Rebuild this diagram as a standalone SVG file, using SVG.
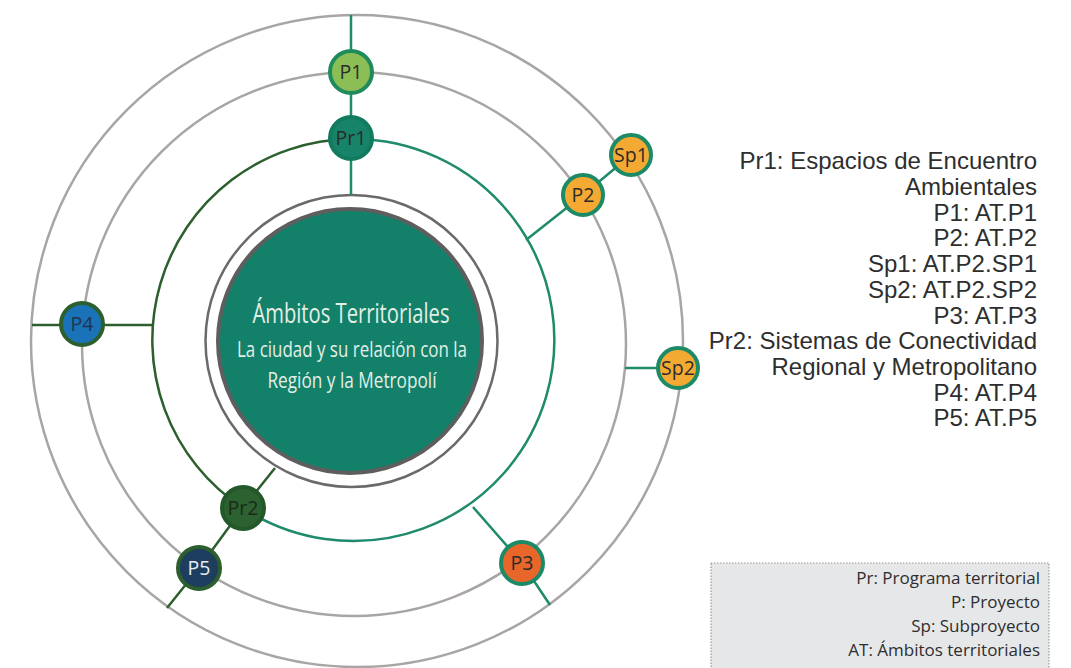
<svg xmlns="http://www.w3.org/2000/svg" width="1071" height="668" viewBox="0 0 1071 668">
<style>
.ring{fill:none;stroke:#a9a5a5;stroke-width:2.5}
.teal{stroke:#1f8a6c;stroke-width:2.5;fill:none}
.dkg{stroke:#2d5f2e;stroke-width:2.5;fill:none}
.nl{font-family:"Open Sans","Noto Sans",sans-serif;font-size:19.5px;text-anchor:middle;fill:#2b2b2b}
.side{font-family:"Liberation Sans",Arial,sans-serif;font-size:24px;text-anchor:end;fill:#2e2e2e}
.leg{font-family:"Open Sans","Noto Sans",sans-serif;font-size:17px;text-anchor:end;fill:#2e2e2e}
.ctr{font-family:"Open Sans","Noto Sans",sans-serif;text-anchor:middle;fill:#e3efe6}
</style>
<rect width="1071" height="668" fill="#ffffff"/>
<g id="rings">
<circle class="ring" cx="357" cy="341" r="326"/>
<circle class="ring" cx="354" cy="344" r="272"/>
<circle cx="351.5" cy="341" r="146" fill="none" stroke="#6b6969" stroke-width="2.5"/>
</g>
<g id="connectors">
<path class="dkg" d="M351,139 A201,201 0 0 0 243,508"/>
<path class="teal" d="M351,139 A201,201 0 1 1 243,508"/>
<line class="teal" x1="351" y1="15" x2="351" y2="195"/>
<line class="teal" x1="526" y1="240" x2="583" y2="195"/>
<line class="teal" x1="583" y1="195" x2="631" y2="155"/>
<line class="teal" x1="625" y1="368" x2="678" y2="368"/>
<polyline class="teal" points="473,507 522,563 550,605"/>
<line class="dkg" x1="32" y1="325" x2="153" y2="325"/>
<polyline class="dkg" points="275,468 243,508 199,568 167,608"/>
</g>
<g id="center">
<circle cx="350" cy="341" r="132" fill="#13806a" stroke="#5e5e5e" stroke-width="4"/>
<text class="ctr" x="351" y="323" font-size="28" textLength="197" lengthAdjust="spacingAndGlyphs">Ámbitos Territoriales</text>
<text class="ctr" x="352" y="357" font-size="22.5" textLength="230" lengthAdjust="spacingAndGlyphs">La ciudad y su relación con la</text>
<text class="ctr" x="352" y="388" font-size="22.5" textLength="169" lengthAdjust="spacingAndGlyphs">Región y la Metropolí</text>
</g>
<g id="P1"><circle cx="351" cy="72" r="21" fill="#8cbe56" stroke="#1f8a5c" stroke-width="4"/><text class="nl" x="351" y="79">P1</text></g>
<g id="Pr1"><circle cx="351" cy="138" r="21" fill="#17846a" stroke="#127a5f" stroke-width="4"/><text class="nl" x="351" y="145">Pr1</text></g>
<g id="P2"><circle cx="583" cy="195" r="20" fill="#f4aa32" stroke="#1c8a66" stroke-width="4"/><text class="nl" x="583" y="202">P2</text></g>
<g id="Sp1"><circle cx="631" cy="155" r="20" fill="#f4aa32" stroke="#1c8a66" stroke-width="4"/><text class="nl" x="631" y="162">Sp1</text></g>
<g id="Sp2"><circle cx="678" cy="368" r="20" fill="#f4aa32" stroke="#1c8a66" stroke-width="4"/><text class="nl" x="678" y="375">Sp2</text></g>
<g id="P3"><circle cx="522" cy="563" r="21" fill="#e8662a" stroke="#1c8a66" stroke-width="4"/><text class="nl" x="522" y="570">P3</text></g>
<g id="P4"><circle cx="82" cy="324" r="21" fill="#1a72b8" stroke="#2d5f2e" stroke-width="4"/><text class="nl" x="82" y="331" style="fill:#1f3550">P4</text></g>
<g id="Pr2"><circle cx="243" cy="508" r="21" fill="#2c6130" stroke="#24572a" stroke-width="4"/><text class="nl" x="243" y="515" style="fill:#1a2a1a">Pr2</text></g>
<g id="P5"><circle cx="199" cy="568" r="21" fill="#1d3e5e" stroke="#2d5f2e" stroke-width="4"/><text class="nl" x="199" y="575" style="fill:#e6ecf2">P5</text></g>
<g id="side-text">
<text class="side" x="1037" y="169">Pr1: Espacios de Encuentro</text>
<text class="side" x="1037" y="195">Ambientales</text>
<text class="side" x="1037" y="221">P1: AT.P1</text>
<text class="side" x="1037" y="246">P2: AT.P2</text>
<text class="side" x="1037" y="272">Sp1: AT.P2.SP1</text>
<text class="side" x="1037" y="298">Sp2: AT.P2.SP2</text>
<text class="side" x="1037" y="324">P3: AT.P3</text>
<text class="side" x="1037" y="349">Pr2: Sistemas de Conectividad</text>
<text class="side" x="1037" y="375">Regional y Metropolitano</text>
<text class="side" x="1037" y="401">P4: AT.P4</text>
<text class="side" x="1037" y="426">P5: AT.P5</text>
</g>
<g id="legend">
<rect x="711" y="563" width="338" height="110" fill="#e6e7e9" stroke="#9a9a9a" stroke-width="1.2" stroke-dasharray="1.5,1.5"/>
<text class="leg" x="1040" y="584">Pr: Programa territorial</text>
<text class="leg" x="1040" y="608">P: Proyecto</text>
<text class="leg" x="1040" y="632">Sp: Subproyecto</text>
<text class="leg" x="1040" y="656">AT: Ámbitos territoriales</text>
</g>
</svg>
